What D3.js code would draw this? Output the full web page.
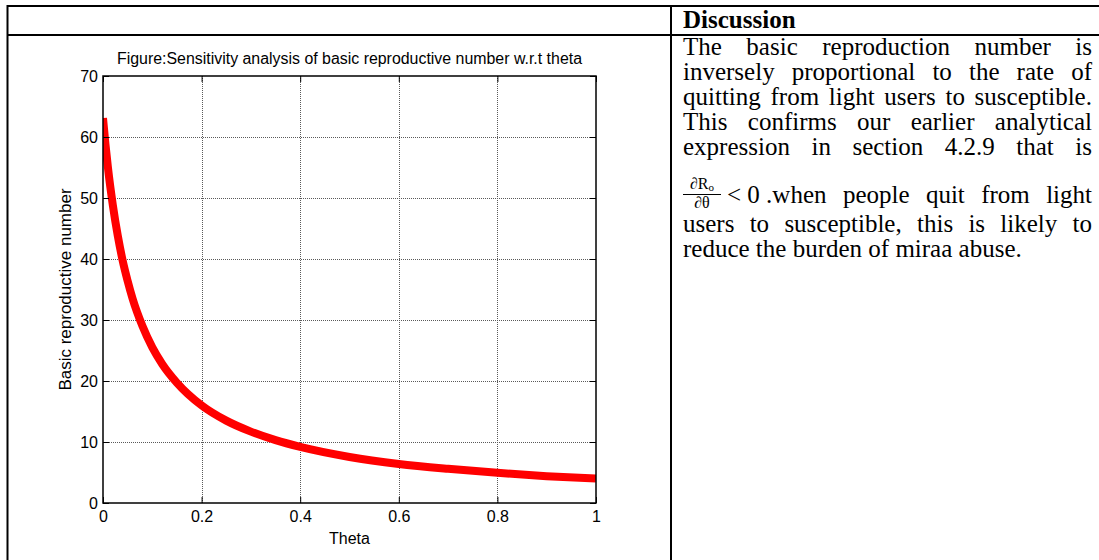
<!DOCTYPE html>
<html>
<head>
<meta charset="utf-8">
<script src="https://cdn.jsdelivr.net/npm/d3@7"></script>
<style>
  body { margin: 0; background: #fff; }
  #page { position: relative; width: 1099px; height: 560px; overflow: hidden; }
  #chart { position: absolute; left: 0; top: 0; }
  #discussion {
    position: absolute; left: 683px; top: 0; width: 409px;
    font-family: "Liberation Serif", "Times New Roman", serif;
    font-size: 25px; color: #000;
  }
  .line { position: absolute; left: 0; width: 409px; height: 25px; line-height: 25px;
          display: flex; justify-content: space-between; white-space: nowrap; }
  .line.last { justify-content: flex-start; }
  .head { font-weight: bold; }
  .lead { position: relative; padding-left: 44px; }
  .frac { position: absolute; left: 0; top: -6px; width: 38px; text-align: center; font-size: 16px; line-height: 15px; }
  .frac .num { display: block; border-bottom: 1px solid #000; padding-bottom: 3px; }
  .frac .den { display: block; }
  .frac sub { font-size: 11px; line-height: 0; vertical-align: -2px; }
</style>
</head>
<body>
<div id="page">
  <svg id="chart" width="1099" height="560"></svg>
  <div id="discussion"></div>
</div>
<script>
// curve
const theta = [0, 0.005, 0.01, 0.02, 0.03, 0.04, 0.05, 0.06, 0.08, 0.1, 0.12, 0.15,
               0.2, 0.25, 0.3, 0.35, 0.4, 0.5, 0.6, 0.7, 0.8, 0.9, 1.0];
const r0 = [63.1, 58.8, 55.0, 48.8, 43.8, 39.7, 36.4, 33.5, 29.0, 25.5, 22.8, 19.7,
            16.0, 13.5, 11.7, 10.3, 9.2, 7.55, 6.4, 5.6, 4.95, 4.4, 4.0];

const xTicks = [0, 0.2, 0.4, 0.6, 0.8, 1];
const xTickLabels = ['0', '0.2', '0.4', '0.6', '0.8', '1'];
const yTicks = [0, 10, 20, 30, 40, 50, 60, 70];

const titleText = 'Figure:Sensitivity analysis of basic reproductive number w.r.t theta';
const xLabel = 'Theta';
const yLabel = 'Basic reproductive number';

const headerText = 'Discussion';
const discussionLines = [
  'The basic reproduction number is',
  'inversely proportional to the rate of',
  'quitting from light users to susceptible.',
  'This confirms our earlier analytical',
  'expression in section 4.2.9 that is',
  '< 0 .when people quit from light',
  'users to susceptible, this is likely to',
  'reduce the burden of miraa abuse.'
];
const lineBaselines = [55, 80, 105, 130, 155, 203, 232, 257];

const svg = d3.select('#chart');

// table frame
const frame = svg.append('g').attr('stroke', '#000').attr('stroke-width', 2);
frame.append('line').attr('x1', 7).attr('x2', 1099).attr('y1', 6).attr('y2', 6);
frame.append('line').attr('x1', 7).attr('x2', 1099).attr('y1', 35).attr('y2', 35);
frame.append('line').attr('x1', 7.5).attr('x2', 7.5).attr('y1', 5).attr('y2', 560);
frame.append('line').attr('x1', 671).attr('x2', 671).attr('y1', 5).attr('y2', 560);

// plot
const margin = { left: 103, right: 596, top: 76, bottom: 503 };
const x = d3.scaleLinear().domain([0, 1]).range([margin.left, margin.right]);
const y = d3.scaleLinear().domain([0, 70]).range([margin.bottom, margin.top]);

const grid = svg.append('g')
  .attr('stroke', '#5a5a5a').attr('stroke-width', 1).attr('stroke-dasharray', '1,1');
grid.selectAll('line.gx').data(xTicks.slice(1, -1)).enter().append('line')
  .attr('x1', d => Math.round(x(d)) + 0.5).attr('x2', d => Math.round(x(d)) + 0.5)
  .attr('y1', margin.top).attr('y2', margin.bottom);
grid.selectAll('line.gy').data(yTicks.slice(1, -1)).enter().append('line')
  .attr('y1', d => Math.round(y(d)) + 0.5).attr('y2', d => Math.round(y(d)) + 0.5)
  .attr('x1', margin.left).attr('x2', margin.right);

svg.append('clipPath').attr('id', 'plotClip').append('rect')
  .attr('x', margin.left).attr('y', margin.top)
  .attr('width', margin.right - margin.left).attr('height', margin.bottom - margin.top);

const line = d3.line()
  .x((d, i) => x(theta[i]))
  .y(d => y(d))
  .curve(d3.curveMonotoneX);

svg.append('path')
  .datum(r0)
  .attr('clip-path', 'url(#plotClip)')
  .attr('fill', 'none')
  .attr('stroke', '#ff0000')
  .attr('stroke-width', 8)
  .attr('stroke-linejoin', 'round')
  .attr('d', line);

const fontAxis = '"Liberation Sans", Arial, sans-serif';

function styleAxis(g) {
  g.select('.domain').remove();
  g.selectAll('.tick line').attr('stroke', '#000').attr('stroke-width', 1);
  g.selectAll('.tick text').attr('fill', '#000').attr('font-size', 16).attr('font-family', fontAxis);
}

svg.append('g')
  .attr('transform', `translate(0,${margin.bottom})`)
  .call(d3.axisBottom(x).tickValues(xTicks).tickFormat((d, i) => xTickLabels[i])
    .tickSizeInner(-6).tickSizeOuter(0).tickPadding(8))
  .call(styleAxis);

svg.append('g')
  .attr('transform', `translate(${margin.left},0)`)
  .call(d3.axisLeft(y).tickValues(yTicks).tickSizeInner(-6).tickSizeOuter(0).tickPadding(5))
  .call(styleAxis);

svg.append('g')
  .attr('transform', `translate(0,${margin.top})`)
  .call(d3.axisTop(x).tickValues(xTicks).tickFormat('').tickSizeInner(-6).tickSizeOuter(0))
  .call(styleAxis);

svg.append('g')
  .attr('transform', `translate(${margin.right},0)`)
  .call(d3.axisRight(y).tickValues(yTicks).tickFormat('').tickSizeInner(-6).tickSizeOuter(0))
  .call(styleAxis);

svg.append('rect')
  .attr('x', margin.left).attr('y', margin.top)
  .attr('width', margin.right - margin.left).attr('height', margin.bottom - margin.top)
  .attr('fill', 'none').attr('stroke', '#000').attr('stroke-width', 1.5);

svg.append('text')
  .attr('x', (margin.left + margin.right) / 2).attr('y', 64)
  .attr('text-anchor', 'middle').attr('font-size', 16).attr('font-family', fontAxis)
  .attr('textLength', 465).attr('lengthAdjust', 'spacingAndGlyphs')
  .text(titleText);

svg.append('text')
  .attr('x', (margin.left + margin.right) / 2).attr('y', 544)
  .attr('text-anchor', 'middle').attr('font-size', 16).attr('font-family', fontAxis)
  .text(xLabel);

svg.append('text')
  .attr('transform', 'rotate(-90)')
  .attr('x', -(margin.top + margin.bottom) / 2).attr('y', 71)
  .attr('text-anchor', 'middle').attr('font-size', 17).attr('font-family', fontAxis)
  .text(yLabel);

// discussion column
const disc = d3.select('#discussion');
disc.append('div').attr('class', 'line head last')
  .style('top', (28 - 21) + 'px')
  .text(headerText);

discussionLines.forEach((txt, i) => {
  const last = i === discussionLines.length - 1;
  const row = disc.append('div')
    .attr('class', 'line' + (last ? ' last' : ''))
    .style('top', (lineBaselines[i] - 21) + 'px');
  if (last) { row.text(txt); return; }
  let words = txt.split(' ');
  if (i === 5) {
    // fraction + "< 0 .when" stay together
    const lead = row.append('span').attr('class', 'lead');
    const frac = lead.append('span').attr('class', 'frac');
    frac.append('span').attr('class', 'num').html('∂R<sub>o</sub>');
    frac.append('span').attr('class', 'den').text('∂θ');
    lead.append('span').text(words.slice(0, 3).join(' '));
    words = words.slice(3);
  }
  words.forEach(w => row.append('span').text(w));
});
</script>
</body>
</html>
